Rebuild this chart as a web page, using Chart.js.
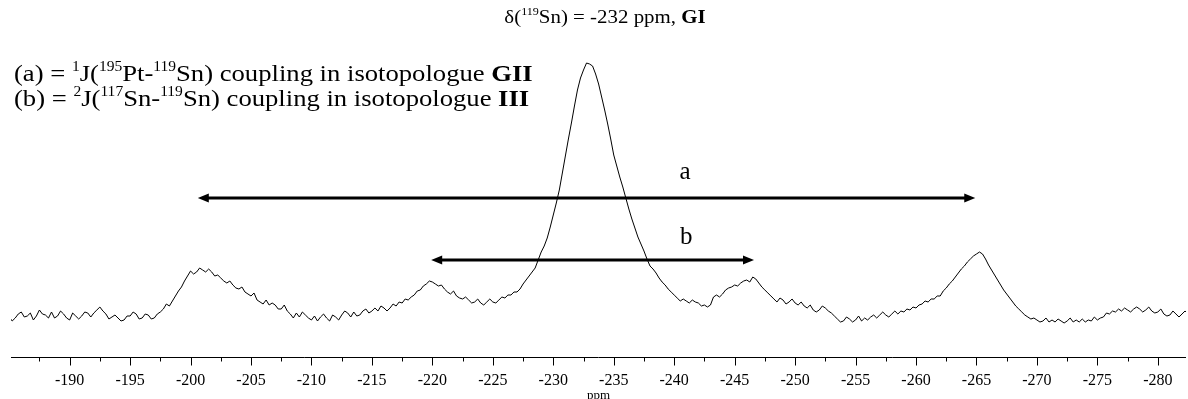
<!DOCTYPE html>
<html><head><meta charset="utf-8">
<script src="https://cdn.jsdelivr.net/npm/chart.js@4"></script>
<style>html,body{margin:0;padding:0;background:#fff;overflow:hidden}</style>
</head><body>
<canvas id="c" width="1188" height="399"></canvas>
<script>
const ppmFirst = -185.0;
const ppmStep = -0.25;
const intensity = [
  40,36,39,43,45,40,41,44,37,41,
  47,43,42,39,45,39,41,46,43,39,
  37,44,41,38,41,45,44,40,44,47,
  50,46,43,38,40,42,39,36,37,41,
  41,45,43,38,39,43,42,38,39,43,
  45,48,53,51,56,61,66,70,76,81,
  86,83,85,89,87,85,88,85,81,82,
  79,76,74,76,72,69,68,70,65,63,
  61,64,57,55,53,57,52,54,52,48,
  48,52,46,43,39,44,40,45,42,39,
  37,41,36,40,43,39,36,42,40,37,
  42,46,44,40,45,41,42,46,48,44,
  46,49,46,51,49,46,49,53,51,55,
  54,58,57,60,62,66,67,71,73,76,
  75,73,71,72,68,65,63,66,61,59,
  58,60,57,54,55,58,54,52,55,58,
  55,54,57,60,59,62,62,65,65,68,
  73,77,81,85,89,97,105,111,119,130,
  142,154,167,184,201,218,234,251,267,279,
  287,294,293,291,283,273,260,247,233,218,
  202,191,180,170,159,148,138,129,120,113,
  106,98,91,88,84,79,75,72,68,65,
  62,59,56,58,56,54,57,55,54,51,
  52,50,52,60,62,60,63,67,69,70,
  72,71,74,76,77,75,80,78,74,70,
  67,64,61,58,55,59,57,53,55,58,
  54,52,55,51,49,52,47,45,47,51,
  49,46,44,41,38,35,36,40,38,35,
  37,41,36,39,37,40,42,39,42,45,
  42,40,43,46,43,46,45,48,47,50,
  49,52,53,56,55,58,58,61,61,66,
  69,73,76,80,84,88,91,95,98,101,
  103,105,103,98,92,87,82,77,72,67,
  63,59,55,51,48,45,42,40,38,39,
  37,35,36,39,35,37,35,38,36,34,
  36,39,35,37,35,38,35,37,36,40,
  37,39,40,44,43,46,45,48,46,49,
  47,45,48,50,48,45,47,50,46,44,
  45,48,43,41,42,46,43,40,43,46,
  43
];
const majorTicks = [-190,-195,-200,-205,-210,-215,-220,-225,-230,-235,-240,-245,-250,-255,-260,-265,-270,-275,-280];
const minorTicks = [-187.5,-192.5,-197.5,-202.5,-207.5,-212.5,-217.5,-222.5,-227.5,-232.5,-237.5,-242.5,-247.5,-252.5,-257.5,-262.5,-267.5,-272.5,-277.5];
const axisRange = [-282.33, -185.15];
// coupling arrows (ppm end points) and their heights in intensity units
const arrowA = [-200.6, -264.9];
const arrowALevel = 159;
const arrowB = [-219.9, -246.6];
const arrowBLevel = 97;
const arrowLabels = [['a', -240.9, 185], ['b', -241.0, 120]];

const FAM = '"Liberation Serif", "Times New Roman", serif';
const points = intensity.map((v, i) => ({x: ppmFirst + i * ppmStep, y: v}));

function fontFor(style, size) {
  if (style === 's') return Math.round(size * 0.6) + 'px ' + FAM;
  if (style === 'b') return 'bold ' + size + 'px ' + FAM;
  return size + 'px ' + FAM;
}
function drawRich(ctx, parts, x, y, size, align, sx) {
  let w = 0;
  parts.forEach(p => { ctx.font = fontFor(p[1], size); w += ctx.measureText(p[0]).width; });
  const x0 = align === 'center' ? x - w * sx / 2 : x;
  ctx.save();
  ctx.translate(x0, y);
  ctx.scale(sx, 1);
  ctx.textAlign = 'left';
  ctx.textBaseline = 'alphabetic';
  let cx = 0;
  parts.forEach(p => {
    ctx.font = fontFor(p[1], size);
    ctx.fillText(p[0], cx, p[1] === 's' ? -size * 0.4 : 0);
    cx += ctx.measureText(p[0]).width;
  });
  ctx.restore();
}
function drawArrow(ctx, xa, xb, y) {
  const x1 = Math.min(xa, xb), x2 = Math.max(xa, xb);
  const hl = 11, hw = 4.5;
  ctx.lineWidth = 3;
  ctx.beginPath(); ctx.moveTo(x1 + hl - 1, y); ctx.lineTo(x2 - hl + 1, y); ctx.stroke();
  ctx.beginPath(); ctx.moveTo(x1, y); ctx.lineTo(x1 + hl, y - hw); ctx.lineTo(x1 + hl, y + hw); ctx.closePath(); ctx.fill();
  ctx.beginPath(); ctx.moveTo(x2, y); ctx.lineTo(x2 - hl, y - hw); ctx.lineTo(x2 - hl, y + hw); ctx.closePath(); ctx.fill();
}

const deco = {
  id: 'deco',
  afterDraw(chart) {
    const ctx = chart.ctx, xs = chart.scales.x, ys = chart.scales.y, ca = chart.chartArea;
    ctx.save();
    ctx.strokeStyle = '#000'; ctx.fillStyle = '#000';
    // axis line and tick marks
    const yb = Math.round(ca.bottom) + 0.5;
    ctx.lineWidth = 1;
    ctx.beginPath(); ctx.moveTo(ca.left, yb); ctx.lineTo(ca.right, yb); ctx.stroke();
    ctx.beginPath();
    majorTicks.forEach(v => { const px = Math.round(xs.getPixelForValue(v)) + 0.5; ctx.moveTo(px, yb); ctx.lineTo(px, yb + 8); });
    minorTicks.forEach(v => { const px = Math.round(xs.getPixelForValue(v)) + 0.5; ctx.moveTo(px, yb); ctx.lineTo(px, yb + 4); });
    ctx.stroke();
    // arrows
    drawArrow(ctx, xs.getPixelForValue(arrowA[0]), xs.getPixelForValue(arrowA[1]), Math.round(ys.getPixelForValue(arrowALevel)));
    drawArrow(ctx, xs.getPixelForValue(arrowB[0]), xs.getPixelForValue(arrowB[1]), Math.round(ys.getPixelForValue(arrowBLevel)));
    ctx.font = '25px ' + FAM; ctx.textAlign = 'center'; ctx.textBaseline = 'middle';
    arrowLabels.forEach(l => ctx.fillText(l[0], xs.getPixelForValue(l[1]), ys.getPixelForValue(l[2])));
    // title and legend text
    drawRich(ctx, [['δ(', 'n'], ['119', 's'], ['Sn) = -232 ppm, ', 'n'], ['GI', 'b']], 605, 23, 19, 'center', 1.1);
    drawRich(ctx, [['(a) = ', 'n'], ['1', 's'], ['J(', 'n'], ['195', 's'], ['Pt-', 'n'], ['119', 's'], ['Sn) coupling in isotopologue ', 'n'], ['GII', 'b']], 14, 81, 24, 'left', 1.11);
    drawRich(ctx, [['(b) = ', 'n'], ['2', 's'], ['J(', 'n'], ['117', 's'], ['Sn-', 'n'], ['119', 's'], ['Sn) coupling in isotopologue ', 'n'], ['III', 'b']], 14, 106, 24, 'left', 1.11);
    ctx.restore();
  }
};

new Chart(document.getElementById('c'), {
  type: 'line',
  data: { datasets: [{ data: points, borderColor: '#000', borderWidth: 1, pointRadius: 0, tension: 0, fill: false }] },
  options: {
    responsive: false, animation: false, devicePixelRatio: 1,
    layout: { padding: { top: 57, left: 11, right: 2, bottom: 0 } },
    plugins: { legend: { display: false }, tooltip: { enabled: false }, title: { display: false } },
    scales: {
      x: {
        type: 'linear', reverse: true, min: axisRange[0], max: axisRange[1],
        grid: { display: false, drawTicks: false }, border: { display: false },
        afterBuildTicks: s => { s.ticks = majorTicks.map(v => ({ value: v })); },
        afterFit: s => { s.height = 42; },
        ticks: { autoSkip: false, maxRotation: 0, padding: 14, color: '#000', font: { family: FAM, size: 16 }, callback: v => String(v) },
        title: { display: true, text: 'ppm', color: '#000', font: { family: FAM, size: 13 }, padding: { top: 0, bottom: -4 } }
      },
      y: { display: false, min: 0, max: 300 }
    }
  },
  plugins: [deco]
});
</script>
</body></html>
